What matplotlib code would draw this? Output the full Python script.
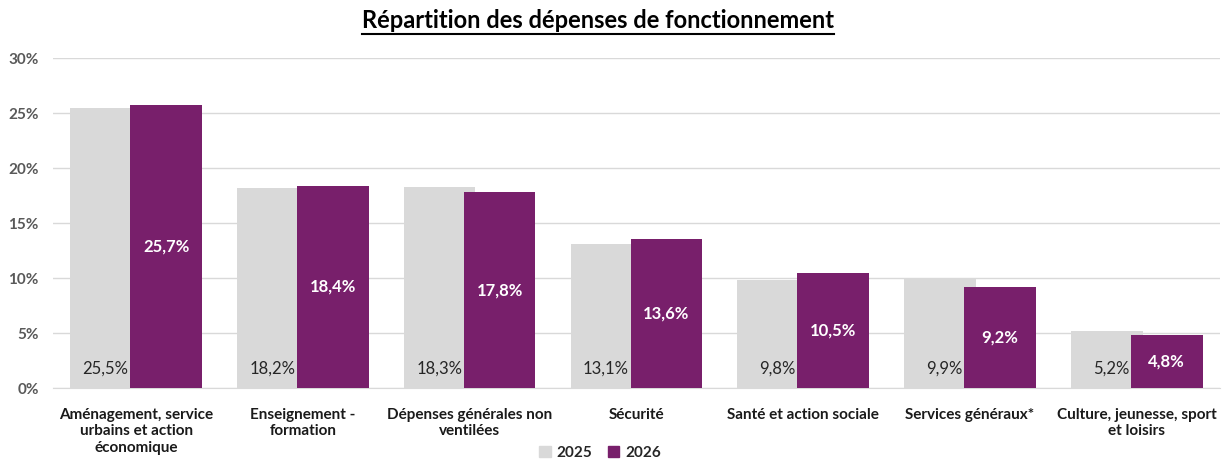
import numpy as np
import matplotlib
matplotlib.use('Agg')
import matplotlib.pyplot as plt
from matplotlib.lines import Line2D
from matplotlib.patches import Patch

plt.rcParams['font.family'] = ['Lato', 'DejaVu Sans']

categories = ['Aménagement, service\nurbains et action\néconomique',
              'Enseignement -\nformation',
              'Dépenses générales non\nventilées',
              'Sécurité',
              'Santé et action sociale',
              'Services généraux*',
              'Culture, jeunesse, sport\net loisirs']
v2025 = [25.5, 18.2, 18.3, 13.1, 9.8, 9.9, 5.2]
v2026 = [25.7, 18.4, 17.8, 13.6, 10.5, 9.2, 4.8]
yticks = [0, 5, 10, 15, 20, 25, 30]

gray = '#D9D9D9'
purple = '#781F6B'

fig = plt.figure(figsize=(12.25, 4.61), dpi=100)
ax = fig.add_axes([0.043, 0.158, 0.953, 0.716])

x = np.arange(len(categories))
w = 0.43
off = 0.18
ax.bar(x - off, v2025, w, color=gray, zorder=2)
ax.bar(x + off, v2026, w, color=purple, zorder=3)

for i in range(len(x)):
    ax.text(x[i] + off - w / 2 - 0.01, 1.8, f'{v2025[i]:.1f}%'.replace('.', ','),
            ha='right', va='center', fontsize=12, color='#262626', zorder=4)
    ax.text(x[i] + off, v2026[i] / 2, f'{v2026[i]:.1f}%'.replace('.', ','),
            ha='center', va='center', fontsize=12, fontweight='bold', color='white', zorder=4)

ax.set_xlim(-0.5, len(x) - 0.5)
ax.set_ylim(0, 30)
ax.set_yticks(yticks)
ax.set_yticklabels([f'{t}%' for t in yticks], fontsize=11, fontweight='bold', color='#595959')
ax.set_xticks(x)
ax.set_xticklabels(categories, fontsize=11, fontweight='bold', color='#1a1a1a', linespacing=1.25)
ax.tick_params(axis='both', length=0)
ax.tick_params(axis='x', pad=14)
ax.tick_params(axis='y', pad=10)
ax.grid(axis='y', color=gray, linewidth=1, zorder=0)
for s in ['top', 'right', 'left']:
    ax.spines[s].set_visible(False)
ax.spines['bottom'].set_color(gray)

handles = [Patch(color=gray, label='2025'), Patch(color=purple, label='2026')]
fig.legend(handles=handles, loc='center', bbox_to_anchor=(0.49, 0.018), ncol=2, frameon=False,
           prop={'size': 11, 'weight': 'bold'}, handlelength=0.75, handleheight=0.75,
           handletextpad=0.4, columnspacing=1.0, labelcolor='#262626')

title = fig.text(0.488, 0.955, 'Répartition des dépenses de fonctionnement', ha='center', va='center',
                 fontsize=17, fontweight='bold', color='black')
fig.canvas.draw()
bb = title.get_window_extent().transformed(fig.transFigure.inverted())
fig.add_artist(Line2D([bb.x0, bb.x1], [bb.y0 - 0.004, bb.y0 - 0.004], color='black', linewidth=1.5))

fig.savefig('out.png', dpi=100)
